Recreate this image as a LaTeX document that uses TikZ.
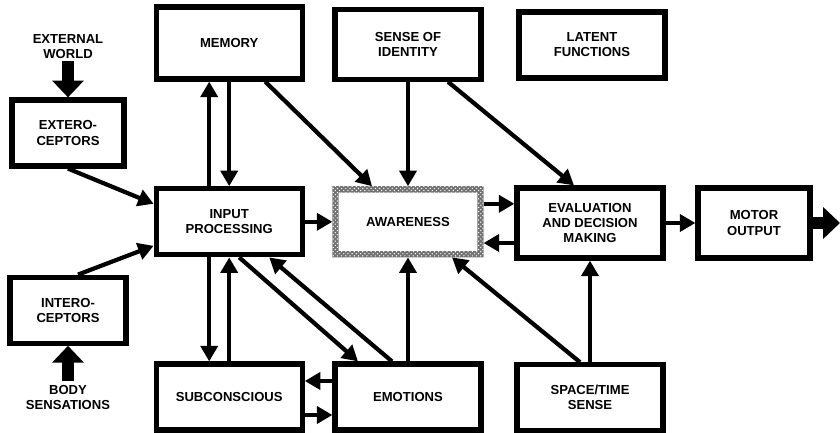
\documentclass[tikz,border=0pt]{standalone}
\usepackage{fontspec}
\setsansfont{Liberation Sans}
\usetikzlibrary{arrows.meta,patterns}
\tikzset{
  blk/.style={draw, line width=3.7pt, minimum width=3.65cm, minimum height=1.65cm, align=center,
    font=\sffamily\bfseries\fontsize{9.3}{10.7}\selectfont},
  sblk/.style={blk, minimum width=2.8cm},
  lbl/.style={align=center, inner sep=1pt, font=\sffamily\bfseries\fontsize{9.3}{10.7}\selectfont},
  arr/.style={line width=3pt, -{Triangle[length=11pt,width=12pt]}},
  fat/.style={line width=9pt, -{Triangle[length=12pt,width=22pt]}}
}
\begin{document}
\begin{tikzpicture}
\useasboundingbox (0,0) rectangle (21,10.825);

% top row
\node[blk, minimum height=1.8cm] (mem) at (5.73,9.75) {MEMORY};
\node[blk, minimum height=1.75cm] (ident) at (10.2,9.72) {SENSE OF\\IDENTITY};
\node[blk] (latent) at (14.8,9.7) {LATENT\\FUNCTIONS};

% middle rows
\node[sblk] (extero) at (1.7,7.5) {EXTERO-\\CEPTORS};
\node[blk] (input) at (5.73,5.28) {INPUT\\PROCESSING};
\node[blk, draw=none] (aware) at (10.2,5.28) {AWARENESS};
\node[blk, minimum height=1.75cm] (eval) at (14.75,5.25) {EVALUATION\\AND DECISION\\MAKING};
\node[sblk, minimum height=1.75cm] (motor) at (18.85,5.25) {MOTOR\\OUTPUT};
\node[sblk, minimum width=2.9cm] (intero) at (1.7,3.07) {INTERO-\\CEPTORS};

% bottom row
\node[blk] (subcon) at (5.73,0.9) {SUBCONSCIOUS};
\node[blk] (emot) at (10.2,0.9) {EMOTIONS};
\node[blk] (space) at (14.75,0.88) {SPACE/TIME\\SENSE};

% stippled border of awareness
\fill[black!55, even odd rule] (aware.south west) rectangle (aware.north east)
  ([shift={(4.5pt,4.5pt)}]aware.south west) rectangle ([shift={(-4.5pt,-4.5pt)}]aware.north east);
\fill[pattern=crosshatch dots, pattern color=white, even odd rule] (aware.south west) rectangle (aware.north east)
  ([shift={(4.5pt,4.5pt)}]aware.south west) rectangle ([shift={(-4.5pt,-4.5pt)}]aware.north east);

% outside world
\node[lbl] (world) at (1.7,9.65) {EXTERNAL\\WORLD};
\node[lbl] (body) at (1.7,0.88) {BODY\\SENSATIONS};
\coordinate (out) at (21,5.25);
\draw[fat] (world.south) -- (extero.north);
\draw[fat] ([yshift=2pt]body.north) -- (intero.south);
\draw[fat] (motor.east) -- (out);

% connections
\draw[arr] (extero.south) -- ([yshift=.45cm]input.west);
\draw[arr] ([xshift=.25cm]intero.north) -- ([yshift=-.6cm]input.west);
\draw[arr] ([xshift=-.5cm]input.north) -- ([xshift=-.5cm]mem.south);
\draw[arr] (mem.south) -- (input.north);
\draw[arr] ([xshift=.9cm]mem.south) -- ([xshift=-.9cm]aware.north);
\draw[arr] (ident.south) -- (aware.north);
\draw[arr] ([xshift=1cm]ident.south) -- ([xshift=-.4cm]eval.north);
\draw[arr] (input.east) -- (input.east -| aware.west);
\draw[arr] ([yshift=.45cm]aware.east) -- ([yshift=.45cm]aware.east -| eval.west);
\draw[arr] ([yshift=-.5cm]eval.west) -- ([yshift=-.5cm]eval.west -| aware.east);
\draw[arr] (eval.east) -- (eval.east -| motor.west);
\draw[arr] ([xshift=-.5cm]input.south) -- ([xshift=-.5cm]subcon.north);
\draw[arr] (subcon.north) -- (input.south);
\draw[arr] ([xshift=.25cm]input.south) -- ([xshift=-1.25cm]emot.north);
\draw[arr] ([xshift=-.4cm]emot.north) -- ([xshift=1cm]input.south);
\draw[arr] (emot.north) -- (aware.south);
\draw[arr] ([yshift=.4cm]emot.west) -- ([yshift=.4cm]emot.west -| subcon.east);
\draw[arr] ([yshift=-.45cm]subcon.east) -- ([yshift=-.45cm]subcon.east -| emot.west);
\draw[arr] ([xshift=-.25cm]space.north) -- ([xshift=1.1cm]aware.south);
\draw[arr] (space.north) -- (eval.south);
\end{tikzpicture}
\end{document}
